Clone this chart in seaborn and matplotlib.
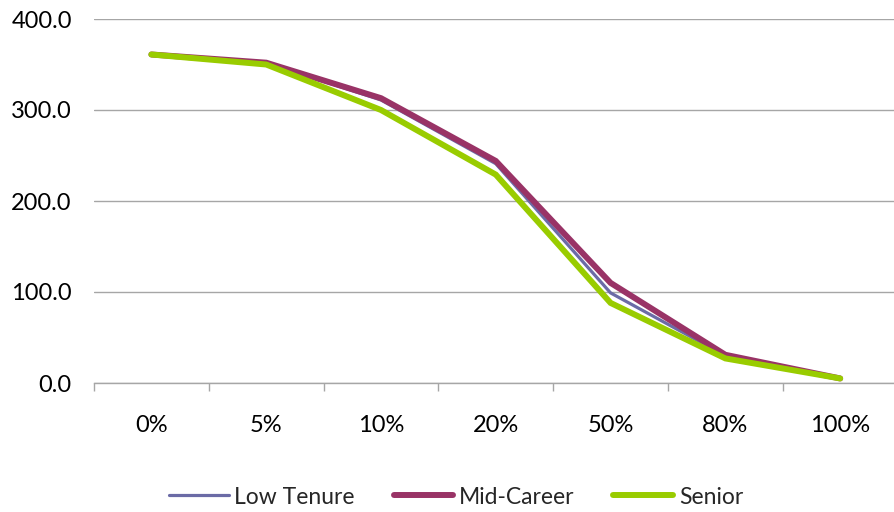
import matplotlib
matplotlib.use("Agg")
import matplotlib.pyplot as plt
import seaborn as sns
import pandas as pd
import numpy as np
from matplotlib.ticker import FixedLocator

# Data
categories = ["0%", "5%", "10%", "20%", "50%", "80%", "100%"]
low_tenure = [361.0, 352.0, 311.0, 241.0, 99.0, 30.0, 5.0]
mid_career = [361.0, 352.0, 313.0, 244.0, 110.0, 31.0, 5.0]
senior = [361.0, 350.0, 300.0, 229.0, 88.0, 27.0, 5.0]
y_ticks = [0, 100, 200, 300, 400]

series_names = ["Low Tenure", "Mid-Career", "Senior"]
series_values = [low_tenure, mid_career, senior]
colors = {"Low Tenure": "#6B6BA6", "Mid-Career": "#993366", "Senior": "#99CC00"}
widths = {"Low Tenure": 2.3, "Mid-Career": 4.3, "Senior": 4.3}

df = pd.DataFrame(
    [
        {"series": name, "pos": i, "category": cat, "value": v}
        for name, vals in zip(series_names, series_values)
        for i, (cat, v) in enumerate(zip(categories, vals))
    ]
)

sns.set_theme(style="white")
plt.rcParams["font.family"] = ["Lato", "DejaVu Sans"]

fig = plt.figure(figsize=(8.94, 5.12), dpi=100)
ax = fig.add_axes([94 / 894, 1 - 383 / 512, 1 - 94 / 894 + 0.004, (383 - 19) / 512])

for name in series_names:
    sub = df[df["series"] == name]
    sns.lineplot(
        data=sub, x="pos", y="value", ax=ax, color=colors[name],
        linewidth=widths[name], label=name, solid_capstyle="round",
        solid_joinstyle="miter", sort=False,
    )

n = len(categories)
ax.set_xlim(-0.5, n - 0.5)
ax.set_ylim(0, 400)
ax.set_yticks(y_ticks)
ax.set_yticklabels([f"{t:.1f}" for t in y_ticks])
ax.set_xticks(range(n))
ax.set_xticklabels(categories)
ax.xaxis.set_minor_locator(FixedLocator(np.arange(-0.5, n, 1.0)))
ax.set_xlabel("")
ax.set_ylabel("")

ax.grid(axis="y", color="#A6A6A6", linewidth=1.0)
ax.set_axisbelow(True)
for side in ["left", "right", "top"]:
    ax.spines[side].set_visible(False)
ax.spines["bottom"].set_color("#A6A6A6")
ax.spines["bottom"].set_linewidth(1.0)

ax.tick_params(axis="y", length=0, pad=16, labelsize=17, labelcolor="#000000")
ax.tick_params(axis="x", which="major", length=0, pad=23, labelsize=17, labelcolor="#000000")
ax.tick_params(axis="x", which="minor", bottom=True, length=6, width=1.0, color="#A6A6A6", direction="out")

ax.legend_.remove()
handles, labels = ax.get_legend_handles_labels()
fig.legend(
    handles, labels, loc="center", bbox_to_anchor=(456 / 894, 1 - 497 / 512),
    ncol=3, frameon=False, fontsize=16.5, handlelength=2.6, handletextpad=0.25,
    columnspacing=1.7,
)

fig.savefig("out.png", dpi=100, facecolor="white")
